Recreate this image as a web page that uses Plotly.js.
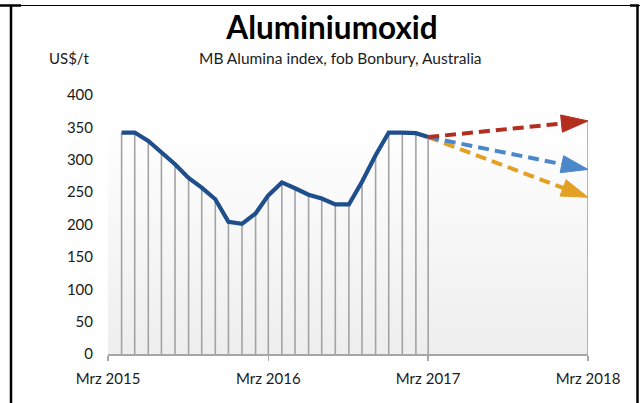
<!DOCTYPE html>
<html>
<head>
<meta charset="utf-8">
<script src="https://cdn.plot.ly/plotly-3.0.1.min.js"></script>
<style>html,body{margin:0;padding:0;background:#fff;}#chart{width:640px;height:403px;}</style>
</head>
<body>
<div id="chart"></div>
<script>
// ---- data ----
const months = ['2015-04-01','2015-05-01','2015-06-01','2015-07-01','2015-08-01','2015-09-01',
  '2015-10-01','2015-11-01','2015-12-01','2016-01-01','2016-02-01','2016-03-01',
  '2016-04-01','2016-05-01','2016-06-01','2016-07-01','2016-08-01','2016-09-01',
  '2016-10-01','2016-11-01','2016-12-01','2017-01-01','2017-02-01','2017-03-01'];
const alumina = [342, 342, 329, 311, 293, 272, 257, 239, 204, 201, 217, 245,
  265, 256, 246, 240, 231, 231, 266, 307, 342, 342, 341, 335];
const forecastDates = ['2017-03-01','2018-03-01'];
const forecastHigh = [335, 360];
const forecastMid = [335, 285];
const forecastLow = [335, 242];
const tickDates = ['2015-03-01','2016-03-01','2017-03-01','2018-03-01'];
const tickLabels = ['Mrz 2015','Mrz 2016','Mrz 2017','Mrz 2018'];
const yTicks = [0, 50, 100, 150, 200, 250, 300, 350, 400];

// ---- drop lines from each point down to zero (highest series value per date) ----
const tops = {};
months.forEach((d, i) => { tops[d] = Math.max(tops[d] ?? -Infinity, alumina[i]); });
[forecastHigh, forecastMid, forecastLow].forEach(s => forecastDates.forEach((d, i) => {
  tops[d] = Math.max(tops[d] ?? -Infinity, s[i]);
}));
const dropX = [], dropY = [];
Object.keys(tops).sort().forEach(d => { dropX.push(d, d, null); dropY.push(0, tops[d], null); });

const font = 'Lato, "Open Sans", sans-serif';
const W = 640, H = 403, M = {l: 108, r: 52, t: 95, b: 49};
const px = x => (x - M.l) / (W - M.l - M.r);
const py = y => 1 - (y - M.t) / (H - M.t - M.b);

function fc(y, color) {
  return {
    x: forecastDates, y: y, type: 'scatter', mode: 'lines+markers',
    line: {color: color, width: 4, dash: '11px,6px'},
    marker: {symbol: 'arrow', size: [0, 28], color: color, opacity: 1, angleref: 'previous',
             line: {width: 1, color: color}},
    hoverinfo: 'skip', showlegend: false, cliponaxis: false
  };
}

const traces = [
  {x: dropX, y: dropY, type: 'scatter', mode: 'lines', line: {color: '#A3A3A3', width: 1.6},
   hoverinfo: 'skip', showlegend: false},
  {x: months, y: alumina, type: 'scatter', mode: 'lines', line: {color: '#1F4E8C', width: 4.2},
   showlegend: false},
  fc(forecastLow, '#E3A024'),
  fc(forecastMid, '#4B87C9'),
  fc(forecastHigh, '#B32E1F')
];

const grad = "<svg xmlns='http://www.w3.org/2000/svg' width='10' height='100' preserveAspectRatio='none'>" +
  "<defs><linearGradient id='g' x1='0' y1='0' x2='0' y2='1'><stop offset='0' stop-color='#ffffff'/>" +
  "<stop offset='0.1' stop-color='#ffffff'/><stop offset='1' stop-color='#eeeeee'/></linearGradient></defs><rect width='10' height='100' fill='url(#g)'/></svg>";

const layout = {
  width: W, height: H, margin: M,
  paper_bgcolor: '#ffffff', plot_bgcolor: 'rgba(0,0,0,0)',
  font: {family: font, size: 15, color: '#1a1a1a'},
  title: {text: '<b>Aluminiumoxid</b>', font: {family: font, size: 31.5, color: '#000'},
          xref: 'container', yref: 'container', x: 332 / W, xanchor: 'center', y: 1 - 28 / H, yanchor: 'middle'},
  xaxis: {type: 'date', range: ['2015-03-01', '2018-03-01'], tickmode: 'array', tickvals: tickDates, ticktext: tickLabels,
          showgrid: false, zeroline: false, showline: true, linecolor: '#A6A6A6', linewidth: 1.5,
          ticks: 'outside', ticklen: 5, tickwidth: 1.5, tickcolor: '#A6A6A6', ticklabelstandoff: 5,
          tickfont: {family: font, size: 15, color: '#1a1a1a'}, fixedrange: true},
  yaxis: {range: [0, 400], tickmode: 'array', tickvals: yTicks, showgrid: false, zeroline: false, showline: false,
          ticks: '', ticklabelstandoff: 14, tickfont: {family: font, size: 15, color: '#1a1a1a'}, fixedrange: true},
  images: [{source: 'data:image/svg+xml;charset=utf-8,' + encodeURIComponent(grad), xref: 'paper', yref: 'paper',
            x: 0, y: 1, sizex: 1, sizey: 1, sizing: 'stretch', xanchor: 'left', yanchor: 'top', layer: 'below'}],
  annotations: [
    {text: 'MB Alumina index, fob Bonbury, Australia', xref: 'paper', yref: 'paper', x: px(340), y: py(58),
     xanchor: 'center', yanchor: 'middle', showarrow: false, font: {family: font, size: 15.5, color: '#1a1a1a'}},
    {text: 'US$/t', xref: 'paper', yref: 'paper', x: px(47), y: py(58), xanchor: 'left', yanchor: 'middle',
     showarrow: false, font: {family: font, size: 15, color: '#1a1a1a'}}
  ],
  shapes: [
    {type: 'line', xref: 'paper', yref: 'paper', x0: px(0), x1: px(640), y0: py(5.5), y1: py(5.5), line: {color: '#000', width: 1}},
    {type: 'line', xref: 'paper', yref: 'paper', x0: px(0), x1: px(21), y0: py(5.5), y1: py(5.5), line: {color: '#000', width: 2.5}},
    {type: 'line', xref: 'paper', yref: 'paper', x0: px(630), x1: px(639), y0: py(5.5), y1: py(5.5), line: {color: '#000', width: 2.5}},
    {type: 'line', xref: 'paper', yref: 'paper', x0: px(11), x1: px(11), y0: py(5), y1: py(403), line: {color: '#000', width: 2.5}},
    {type: 'line', xref: 'paper', yref: 'paper', x0: px(637.5), x1: px(637.5), y0: py(5), y1: py(403), line: {color: '#000', width: 2.5}}
  ]
};

Plotly.newPlot('chart', traces, layout, {staticPlot: true, displayModeBar: false});
</script>
</body>
</html>
